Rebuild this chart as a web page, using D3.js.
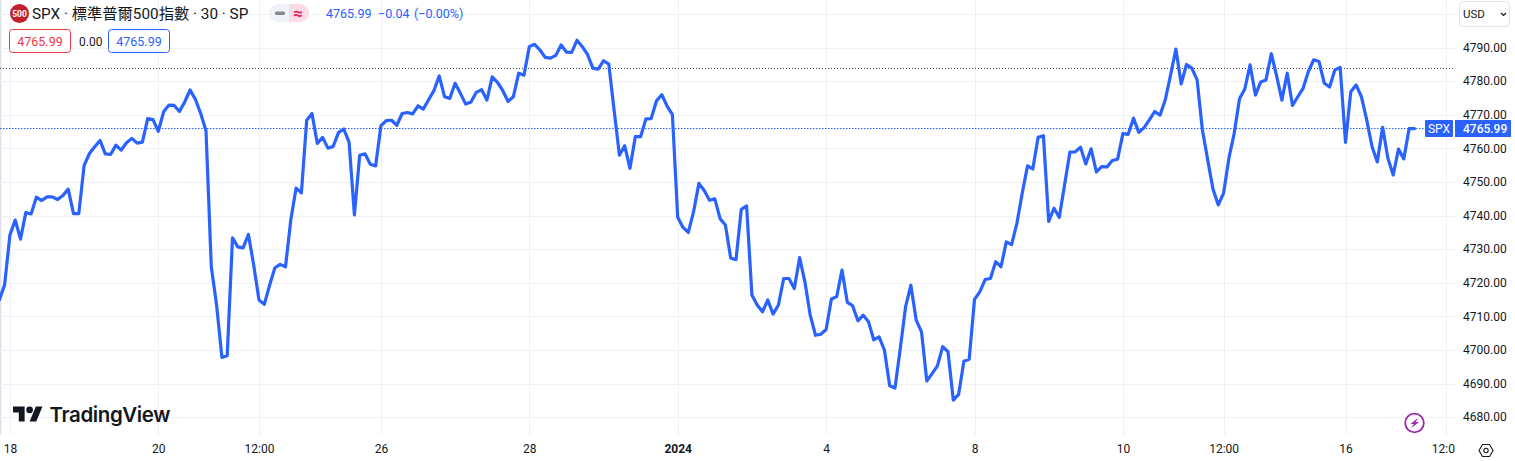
<!DOCTYPE html>
<html>
<head>
<meta charset="utf-8">
<script src="https://cdn.jsdelivr.net/npm/d3@7"></script>
<style>
  html, body { margin: 0; padding: 0; background: #fff; overflow: hidden; }
</style>
</head>
<body>
<div id="d3-container"></div>
<script>
// SPX 30 min closes
const prices = [
  4715.0, 4719.5, 4734.3, 4738.8, 4733.1, 4741.0, 4740.6, 4745.6, 4744.6, 4745.7,
  4745.7, 4744.9, 4746.1, 4748.0, 4740.7, 4740.7, 4755.0, 4758.6, 4760.6, 4762.5,
  4758.5, 4758.3, 4761.1, 4759.6, 4761.8, 4763.1, 4761.7, 4762.0, 4769.0, 4768.7,
  4765.2, 4771.0, 4773.0, 4772.9, 4771.1, 4774.0, 4777.5, 4774.7, 4770.5, 4765.4,
  4724.9, 4713.5, 4697.9, 4698.4, 4733.5, 4730.8, 4730.5, 4734.5, 4725.4, 4715.0,
  4713.7, 4719.4, 4724.6, 4725.6, 4724.9, 4738.8, 4748.3, 4746.9, 4768.5, 4770.5,
  4761.6, 4763.4, 4760.2, 4760.7, 4764.8, 4765.9, 4761.9, 4740.3, 4758.1, 4758.5,
  4755.4, 4754.9, 4766.8, 4768.4, 4768.5, 4767.0, 4770.5, 4770.8, 4770.4, 4772.8,
  4771.8, 4774.6, 4777.3, 4781.7, 4775.5, 4775.0, 4779.5, 4776.5, 4773.3, 4773.9,
  4776.8, 4777.6, 4774.5, 4781.4, 4779.8, 4777.3, 4774.1, 4775.5, 4782.5, 4781.9,
  4790.4, 4791.1, 4789.4, 4787.2, 4787.0, 4787.8, 4790.9, 4788.8, 4788.7, 4792.3,
  4790.4, 4788.0, 4784.0, 4783.7, 4786.2, 4785.2, 4771.5, 4758.1, 4760.9, 4754.2,
  4763.6, 4763.6, 4768.9, 4769.0, 4774.3, 4776.1, 4772.7, 4770.2, 4739.6, 4736.6,
  4735.1, 4741.3, 4749.7, 4747.6, 4744.7, 4745.1, 4739.2, 4737.3, 4727.5, 4727.0,
  4742.0, 4743.0, 4716.5, 4713.5, 4711.5, 4715.0, 4710.8, 4713.5, 4721.4, 4721.4,
  4718.4, 4727.6, 4720.4, 4710.5, 4704.5, 4704.8, 4706.2, 4715.3, 4716.0, 4723.9,
  4714.3, 4713.3, 4708.8, 4710.5, 4708.5, 4703.1, 4704.0, 4700.1, 4689.5, 4688.8,
  4700.6, 4713.0, 4719.4, 4709.0, 4705.5, 4690.9, 4693.1, 4695.4, 4701.1, 4699.6,
  4685.2, 4686.9, 4696.8, 4697.4, 4715.2, 4717.4, 4721.1, 4721.4, 4726.4, 4724.9,
  4732.3, 4731.5, 4737.8, 4746.8, 4754.9, 4754.0, 4763.4, 4763.9, 4738.4, 4742.3,
  4739.6, 4749.3, 4759.0, 4759.1, 4760.5, 4755.5, 4760.0, 4753.1, 4754.7, 4754.6,
  4756.5, 4756.9, 4764.5, 4764.3, 4769.1, 4764.9, 4766.3, 4768.6, 4771.1, 4770.0,
  4774.6, 4782.0, 4789.7, 4779.3, 4785.1, 4784.0, 4780.5, 4765.6, 4756.7, 4748.0,
  4743.3, 4746.8, 4757.2, 4764.6, 4774.9, 4777.8, 4785.0, 4776.0, 4779.9, 4780.5,
  4788.3, 4781.7, 4774.5, 4782.5, 4772.9, 4775.5, 4778.0, 4783.0, 4786.5, 4786.0,
  4779.5, 4778.4, 4783.5, 4784.2, 4761.9, 4777.0, 4779.0, 4775.5, 4768.6, 4760.7,
  4756.1, 4766.4, 4757.2, 4752.2, 4759.9, 4757.0, 4765.99, 4765.99
];

const timeLabels = ['18', '20', '12:00', '26', '28', '2024', '4', '8', '10', '12:00', '16', '12:00'];
const timeIndex = [2, 30, 49, 72, 100, 128, 156, 184, 212, 231, 254, 273];
const priceTicks = [4790, 4780, 4770, 4760, 4750, 4740, 4730, 4720, 4710, 4700, 4690, 4680];
const gridPrices = [4800, ...priceTicks];

const lastPrice = 4765.99;
const prevLine = 4783.96;

const width = 1515;
const height = 461;
const plotRight = 1455;
const plotBottom = 435;
const axisRight = 1511;

const blue = '#2962ff';
const textColor = '#131722';
const gridColor = '#f0f1f4';

const svg = d3.select('#d3-container')
    .append('svg')
    .attr('width', width)
    .attr('height', height)
    .attr('font-family', 'Roboto, "Noto Sans CJK TC", sans-serif')
    .style('display', 'block');

const x = d3.scaleLinear().domain([2, 273]).range([9.9, 1446.2]);
const y = d3.scaleLinear().domain([4680, 4790]).range([417.6, 48]);

svg.append('clipPath').attr('id', 'plot-clip')
    .append('rect').attr('width', plotRight).attr('height', plotBottom);
svg.append('clipPath').attr('id', 'time-clip')
    .append('rect').attr('y', plotBottom).attr('width', plotRight).attr('height', height - plotBottom);

// Left edge strip
svg.append('rect').attr('width', 1.5).attr('height', plotBottom).attr('fill', '#e0e3eb');

// Grid
svg.append('g').selectAll('line').data(gridPrices).join('line')
    .attr('x1', 0).attr('x2', plotRight)
    .attr('y1', d => Math.floor(y(d)) + 0.5).attr('y2', d => Math.floor(y(d)) + 0.5)
    .attr('stroke', gridColor);
svg.append('g').selectAll('line').data(timeIndex).join('line')
    .attr('x1', d => Math.round(x(d)) + 0.5).attr('x2', d => Math.round(x(d)) + 0.5)
    .attr('y1', 0).attr('y2', plotBottom)
    .attr('stroke', gridColor);

// Reference lines
svg.append('line')
    .attr('x1', 0).attr('x2', 1453)
    .attr('y1', Math.floor(y(prevLine)) + 0.5).attr('y2', Math.floor(y(prevLine)) + 0.5)
    .attr('stroke', '#434651').attr('stroke-dasharray', '1 2');
svg.append('line')
    .attr('x1', 0).attr('x2', 1425)
    .attr('y1', Math.floor(y(lastPrice)) + 0.5).attr('y2', Math.floor(y(lastPrice)) + 0.5)
    .attr('stroke', blue).attr('stroke-dasharray', '1.5 1.5');

// Price line
const line = d3.line().x((d, i) => x(i)).y(d => y(d));
svg.append('path')
    .datum(prices)
    .attr('clip-path', 'url(#plot-clip)')
    .attr('fill', 'none')
    .attr('stroke', blue)
    .attr('stroke-width', 3.2)
    .attr('stroke-linejoin', 'round')
    .attr('stroke-linecap', 'round')
    .attr('d', line);

// Y axis
const yAxis = svg.append('g')
    .attr('transform', `translate(${plotRight},0)`)
    .call(d3.axisRight(y).tickValues(priceTicks).tickFormat(d3.format('.2f')).tickSize(0).tickPadding(8));
yAxis.select('.domain').remove();
yAxis.selectAll('text').attr('font-size', 12).attr('font-family', 'Roboto').attr('fill', textColor).attr('dy', '0.28em');

// X axis
const xAxis = svg.append('g')
    .attr('clip-path', 'url(#time-clip)')
    .append('g')
    .attr('transform', `translate(0,${plotBottom})`)
    .call(d3.axisBottom(x).tickValues(timeIndex).tickFormat((d, i) => timeLabels[i]).tickSize(0).tickPadding(9));
xAxis.select('.domain').remove();
xAxis.selectAll('text')
    .attr('font-size', 12).attr('font-family', 'Roboto').attr('fill', textColor)
    .attr('font-weight', (d, i) => timeLabels[i] === '2024' ? 700 : 400);

// Last price labels
svg.append('rect').attr('x', 1425).attr('y', 120).attr('width', 28).attr('height', 17).attr('rx', 1).attr('fill', blue);
svg.append('text').attr('x', 1439).attr('y', 132.5).attr('text-anchor', 'middle')
    .attr('font-size', 12).attr('fill', '#fff').text('SPX');
svg.append('rect').attr('x', plotRight).attr('y', 120).attr('width', axisRight - plotRight).attr('height', 17).attr('fill', blue);
svg.append('text').attr('x', 1463).attr('y', 132.5)
    .attr('font-size', 12).attr('font-weight', 500).attr('fill', '#fff').text(d3.format('.2f')(lastPrice));

// Legend
svg.append('circle').attr('cx', 19.5).attr('cy', 13.5).attr('r', 9.5).attr('fill', '#c41f2d');
svg.append('text').attr('x', 19.5).attr('y', 16.5).attr('text-anchor', 'middle')
    .attr('font-size', 8.5).attr('font-weight', 700).attr('fill', '#fff').text('500');
svg.append('text').attr('x', 32).attr('y', 19)
    .attr('font-size', 15.3).attr('fill', textColor).text('SPX · 標準普爾500指數 · 30 · SP');

svg.append('path').attr('d', 'M278 4h11v18h-11a9 9 0 0 1 0-18z').attr('fill', '#f0f3fa');
svg.append('path').attr('d', 'M289 4h11a9 9 0 0 1 0 18h-11z').attr('fill', '#fbdbe5');
svg.append('rect').attr('x', 275).attr('y', 11.5).attr('width', 10).attr('height', 3.5).attr('rx', 1.5).attr('fill', '#868993');
svg.append('text').attr('x', 298).attr('y', 19).attr('text-anchor', 'middle')
    .attr('font-size', 17).attr('font-weight', 700).attr('fill', '#e91e63').text('≈');

const legendValues = [[326, '4765.99'], [378, '−0.04'], [414, '(−0.00%)']];
svg.append('g').selectAll('text').data(legendValues).join('text')
    .attr('x', d => d[0]).attr('y', 18)
    .attr('font-size', 12.5).attr('fill', blue).text(d => d[1]);

svg.append('rect').attr('x', 9.5).attr('y', 29.5).attr('width', 61).attr('height', 23).attr('rx', 3)
    .attr('fill', '#fff').attr('stroke', '#f23645');
svg.append('text').attr('x', 40).attr('y', 45.5).attr('text-anchor', 'middle')
    .attr('font-size', 12.5).attr('fill', '#f23645').text('4765.99');
svg.append('text').attr('x', 79).attr('y', 45.5)
    .attr('font-size', 12).attr('fill', textColor).text('0.00');
svg.append('rect').attr('x', 108.5).attr('y', 29.5).attr('width', 61).attr('height', 23).attr('rx', 3)
    .attr('fill', '#fff').attr('stroke', blue);
svg.append('text').attr('x', 139).attr('y', 45.5).attr('text-anchor', 'middle')
    .attr('font-size', 12.5).attr('fill', blue).text('4765.99');

// Currency button
svg.append('rect').attr('x', 1459.5).attr('y', 1.5).attr('width', 50).attr('height', 25).attr('rx', 4)
    .attr('fill', '#fff').attr('stroke', '#e0e3eb');
svg.append('text').attr('x', 1463).attr('y', 18).attr('font-size', 11.5).attr('fill', textColor).text('USD');
svg.append('path').attr('d', 'M1501 13l2.5 2.5 2.5-2.5').attr('fill', 'none').attr('stroke', textColor).attr('stroke-width', 1.2);

// TradingView logo
svg.append('g').attr('transform', 'translate(13,403.3) scale(0.83)').attr('fill', textColor)
    .call(g => g.append('path').attr('d', 'M14 22H7V11H0V4h14v18zM28 22h-8l7.5-18h8L28 22z'))
    .call(g => g.append('circle').attr('cx', 20).attr('cy', 8).attr('r', 4));
svg.append('text').attr('x', 49.5).attr('y', 422)
    .attr('font-family', 'Inter').attr('font-size', 20.5).attr('font-weight', 600)
    .attr('letter-spacing', -0.4).attr('fill', textColor).text('TradingView');

// Bolt badge
svg.append('circle').attr('cx', 1414.5).attr('cy', 423).attr('r', 9.3)
    .attr('fill', '#fff').attr('stroke', '#9c27b0').attr('stroke-width', 1.8);
svg.append('path').attr('d', 'M1418.5 417.5l-8 6.5h3.5l-3 4.5 8-6.5h-3.5z').attr('fill', '#9c27b0');

// Settings hexagon
const hex = d3.range(6).map(i => [1486 + 7 * Math.cos(i * Math.PI / 3), 450.5 + 7 * Math.sin(i * Math.PI / 3)]);
svg.append('path').attr('d', d3.line()(hex) + 'Z').attr('fill', 'none').attr('stroke', textColor).attr('stroke-width', 1.1);
svg.append('circle').attr('cx', 1486).attr('cy', 450.5).attr('r', 2.2).attr('fill', 'none').attr('stroke', textColor).attr('stroke-width', 1.1);
</script>
</body>
</html>
